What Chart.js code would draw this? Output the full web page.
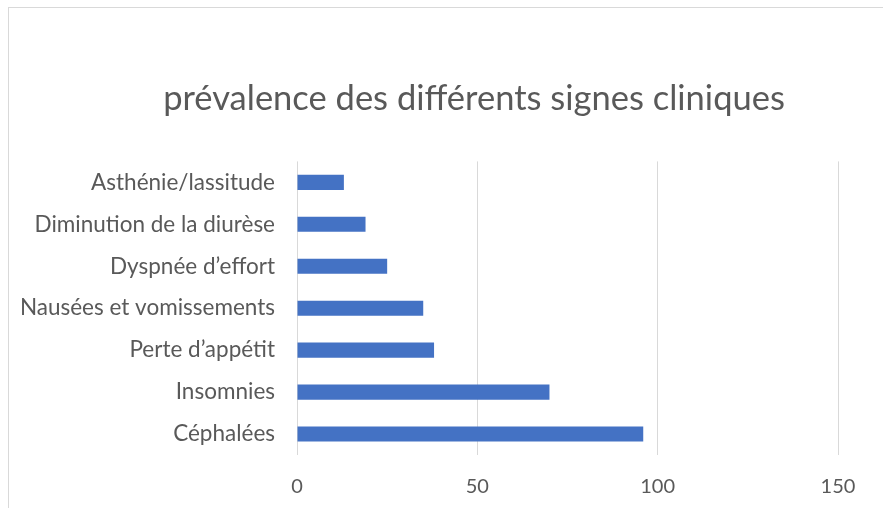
<!DOCTYPE html>
<html>
<head>
<meta charset="utf-8">
<script src="https://cdn.jsdelivr.net/npm/chart.js@4/dist/chart.umd.min.js"></script>
<style>
  html, body { margin: 0; padding: 0; background: #fff; }
  .wrap { position: relative; width: 883px; height: 508px; overflow: hidden; }
  .frame {
    position: absolute; left: 8px; top: 7px; width: 900px; height: 520px;
    border-left: 1px solid #d9d9d9; border-top: 1px solid #d9d9d9;
  }
  canvas { position: absolute; left: 0; top: 0; }
</style>
</head>
<body>
<div class="wrap">
  <div class="frame"></div>
  <canvas id="signesChart" width="883" height="508"></canvas>
</div>
<script>
// categories, top to bottom
const signes = [
  "Asthénie/lassitude",
  "Diminution de la diurèse",
  "Dyspnée d\u2019effort",
  "Nausées et vomissements",
  "Perte d\u2019appétit",
  "Insomnies",
  "Céphalées",
];
const effectifs = [13, 19, 25, 35, 38, 70, 96];
const xTicks = [0, 50, 100, 150];

const fontFamily = "Lato, 'Open Sans', sans-serif";
const textColor = "#595959";

// the title in the original sits a bit right of the canvas centre
const shiftTitle = {
  id: "shiftTitle",
  afterLayout(chart) {
    const t = chart.titleBlock;
    if (t) {
      t.left += 55;
      t.right += 55;
    }
  },
};

const ctx = document.getElementById("signesChart").getContext("2d");
new Chart(ctx, {
  type: "bar",
  data: {
    labels: signes,
    datasets: [
      {
        label: "prévalence",
        data: effectifs,
        backgroundColor: "#4472C4",
        categoryPercentage: 1,
        barPercentage: 0.36,
      },
    ],
  },
  options: {
    indexAxis: "y",
    responsive: false,
    animation: false,
    layout: { padding: { left: 0, right: 45, top: 0, bottom: 9 } },
    plugins: {
      legend: { display: false },
      tooltip: { enabled: false },
      title: {
        display: true,
        text: "prévalence des différents signes cliniques",
        color: textColor,
        font: { family: fontFamily, size: 34.5, weight: "normal" },
        padding: { top: 78, bottom: 42 },
      },
    },
    scales: {
      x: {
        min: xTicks[0],
        max: xTicks[xTicks.length - 1],
        afterBuildTicks: (scale) => {
          scale.ticks = xTicks.map((v) => ({ value: v }));
        },
        afterFit: (scale) => {
          scale.height = 44;
        },
        grid: { color: "#d9d9d9", lineWidth: 1, drawTicks: false },
        border: { display: false },
        ticks: {
          color: textColor,
          padding: 20,
          font: { family: fontFamily, size: 20 },
        },
      },
      y: {
        grid: { display: false, drawTicks: false },
        border: { display: false },
        afterFit: (scale) => {
          scale.width = 297;
        },
        ticks: {
          color: textColor,
          padding: 22,
          font: { family: fontFamily, size: 22.5 },
        },
      },
    },
  },
  plugins: [shiftTitle],
});
</script>
</body>
</html>
